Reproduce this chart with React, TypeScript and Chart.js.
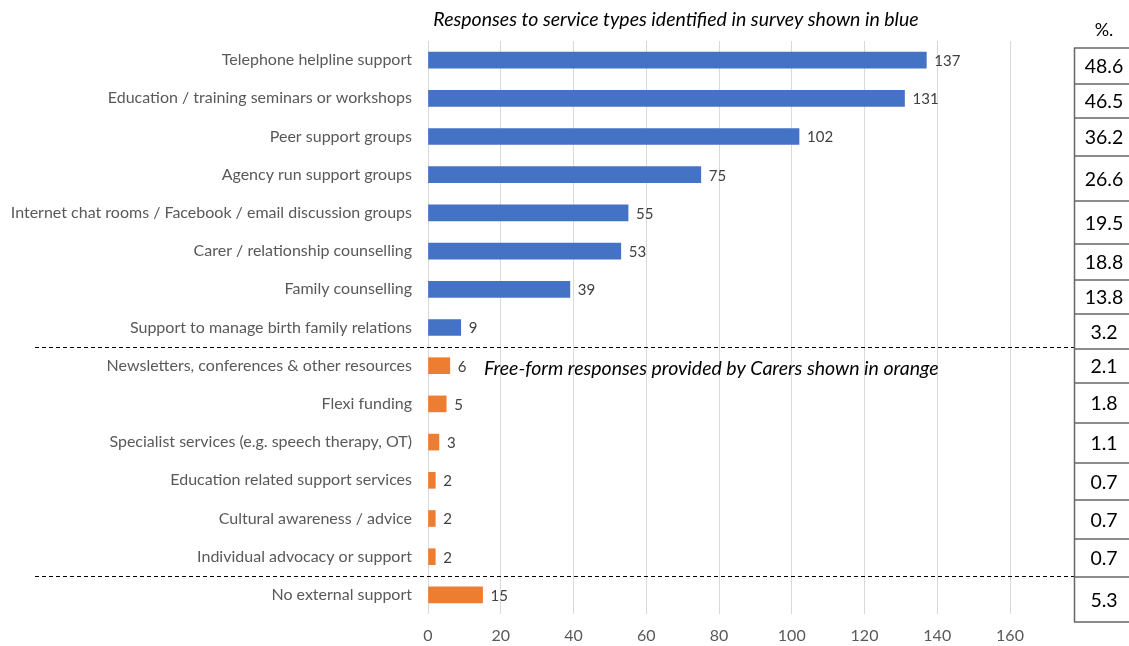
import React, { useEffect, useRef } from "react";
import { Chart, registerables } from "chart.js";

Chart.register(...registerables);

const categories = [
  "Telephone helpline support",
  "Education / training seminars or workshops",
  "Peer support groups",
  "Agency run support groups",
  "Internet chat rooms / Facebook / email discussion groups",
  "Carer / relationship counselling",
  "Family counselling",
  "Support to manage birth family relations",
  "Newsletters, conferences & other resources",
  "Flexi funding",
  "Specialist services (e.g. speech therapy, OT)",
  "Education related support services",
  "Cultural awareness / advice",
  "Individual advocacy or support",
  "No external support",
];

const surveyValues = [137, 131, 102, 75, 55, 53, 39, 9, null, null, null, null, null, null, null];
const freeFormValues = [null, null, null, null, null, null, null, null, 6, 5, 3, 2, 2, 2, 15];
const percentages = ["48.6", "46.5", "36.2", "26.6", "19.5", "18.8", "13.8", "3.2", "2.1", "1.8", "1.1", "0.7", "0.7", "0.7", "5.3"];
const xTicks = [0, 20, 40, 60, 80, 100, 120, 140, 160];

const titleText = "Responses to service types identified in survey shown in blue";
const noteText = "Free-form responses provided by Carers shown in orange";
const tableHeader = "%.";

const BLUE = "#4472C4";
const ORANGE = "#ED7D31";
const FONT = "Lato, 'Open Sans', sans-serif";

// table row boundaries (layout)
const tableRowEdges = [48, 84, 118, 156, 201, 244, 280, 314, 349, 383, 423, 463, 500, 539, 577, 622];

const extrasPlugin = {
  id: "extras",
  afterDatasetsDraw(chart: any) {
    const ctx = chart.ctx;
    const y = chart.scales.y;
    ctx.save();
    // data labels
    ctx.font = `15px ${FONT}`;
    ctx.fillStyle = "#404040";
    ctx.textBaseline = "middle";
    ctx.textAlign = "left";
    chart.data.datasets.forEach((ds: any, di: number) => {
      const meta = chart.getDatasetMeta(di);
      meta.data.forEach((bar: any, i: number) => {
        const v = ds.data[i];
        if (v === null || v === undefined) return;
        ctx.fillText(String(v), bar.x + 8, bar.y + 1);
      });
    });
    // dashed separators
    ctx.strokeStyle = "#000";
    ctx.lineWidth = 1;
    ctx.setLineDash([4, 3]);
    const sepAfter = [7, 13];
    sepAfter.forEach((idx) => {
      const yy = Math.round((y.getPixelForValue(idx) + y.getPixelForValue(idx + 1)) / 2) + 0.5;
      ctx.beginPath();
      ctx.moveTo(35, yy);
      ctx.lineTo(1074, yy);
      ctx.stroke();
    });
    ctx.setLineDash([]);
    // title
    ctx.fillStyle = "#000";
    ctx.font = `italic 19.5px ${FONT}`;
    ctx.textAlign = "center";
    ctx.fillText(titleText, 676, 20);
    // note
    ctx.textAlign = "left";
    ctx.fillText(noteText, 484, 369);
    // table
    ctx.font = `18px ${FONT}`;
    ctx.textAlign = "center";
    ctx.fillStyle = "#000";
    ctx.fillText(tableHeader, 1104, 30);
    ctx.strokeStyle = "#666";
    ctx.lineWidth = 1.5;
    ctx.beginPath();
    ctx.moveTo(1074.5, tableRowEdges[0]);
    ctx.lineTo(1074.5, tableRowEdges[tableRowEdges.length - 1]);
    ctx.stroke();
    tableRowEdges.forEach((e) => {
      ctx.beginPath();
      ctx.moveTo(1074, e);
      ctx.lineTo(1129, e);
      ctx.stroke();
    });
    ctx.font = `19.5px ${FONT}`;
    percentages.forEach((p, i) => {
      const mid = (tableRowEdges[i] + tableRowEdges[i + 1]) / 2;
      ctx.fillText(p, 1104, mid + 1);
    });
    ctx.restore();
  },
};

export default function App() {
  const ref = useRef<HTMLCanvasElement>(null);
  useEffect(() => {
    if (!ref.current) return;
    const chart = new Chart(ref.current, {
      type: "bar",
      data: {
        labels: categories,
        datasets: [
          { data: surveyValues as any, backgroundColor: BLUE, barThickness: 16, grouped: false } as any,
          { data: freeFormValues as any, backgroundColor: ORANGE, barThickness: 16, grouped: false } as any,
        ],
      },
      options: {
        indexAxis: "y",
        responsive: false,
        animation: false,
        layout: { padding: { top: 41, right: 119, left: 0, bottom: 0 } },
        plugins: { legend: { display: false }, tooltip: { enabled: false }, title: { display: false } },
        scales: {
          x: {
            min: 0,
            max: 160,
            afterBuildTicks(scale: any) {
              scale.ticks = xTicks.map((v) => ({ value: v }));
            },
            afterFit(scale: any) {
              scale.height = 32;
            },
            grid: { color: "#D9D9D9", drawTicks: false },
            border: { display: false },
            ticks: { color: "#595959", font: { family: FONT, size: 16 }, padding: 12 },
          },
          y: {
            afterFit(scale: any) {
              scale.width = 428;
            },
            grid: { display: false, drawTicks: false },
            border: { display: false },
            ticks: { color: "#595959", font: { family: FONT, size: 16 }, padding: 16, autoSkip: false },
          },
        },
      },
      plugins: [extrasPlugin],
    });
    return () => chart.destroy();
  }, []);
  return (
    <div style={{ position: "fixed", left: 0, top: 0, width: 1129, height: 646, background: "#fff" }}>
      <canvas ref={ref} width={1129} height={646} style={{ width: 1129, height: 646 }} />
    </div>
  );
}
